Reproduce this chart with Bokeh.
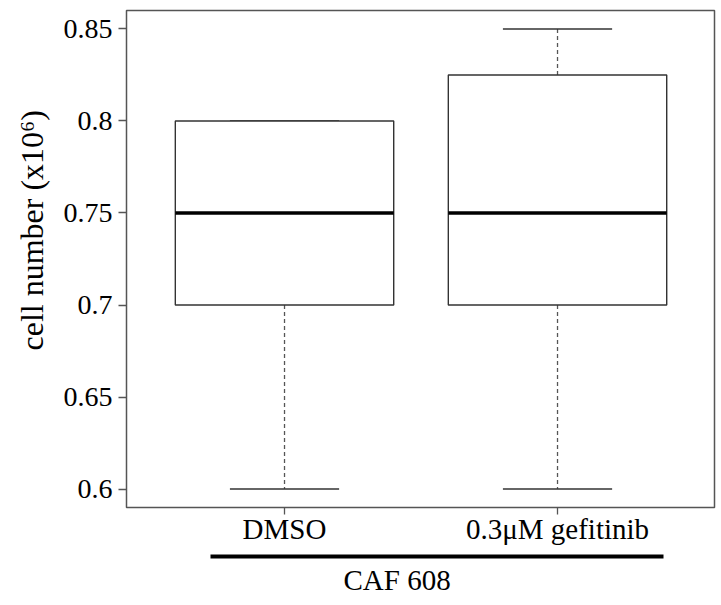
from bokeh.plotting import figure
from bokeh.models import Range1d, LinearAxis, FixedTicker, ColumnDataSource, Title
from bokeh.embed import file_html
from bokeh.resources import INLINE

# ---- data ----
groups = ["DMSO", "0.3μM gefitinib"]
positions = [1, 2]
lower = [0.60, 0.60]
q1 = [0.70, 0.70]
median = [0.75, 0.75]
q3 = [0.80, 0.825]
upper = [0.80, 0.85]
y_ticks = [0.6, 0.65, 0.7, 0.75, 0.8, 0.85]
y_tick_labels = ["0.6", "0.65", "0.7", "0.75", "0.8", "0.85"]
group_label = "CAF 608"
y_label = "cell number (x10⁶)"

# ---- style ----
FONT = "Liberation Serif"
FS = "28px"
XFS = "29px"
BOX_W = 0.8
CAP_W = 0.4
GRAY = "#555555"
BOXC = "#333333"

src = ColumnDataSource(dict(
    pos=positions,
    left=[x - BOX_W / 2 for x in positions],
    right=[x + BOX_W / 2 for x in positions],
    cl=[x - CAP_W / 2 for x in positions],
    cr=[x + CAP_W / 2 for x in positions],
    lower=lower, q1=q1, median=median, q3=q3, upper=upper,
))

p = figure(width=716, height=605, output_backend="svg", toolbar_location=None,
           x_range=Range1d(0.4212, 2.575), y_range=Range1d(0.59, 0.86),
           min_border_left=126, min_border_right=2, min_border_top=10,
           min_border_bottom=98)
p.xgrid.visible = False
p.ygrid.visible = False
p.outline_line_color = GRAY
p.outline_line_width = 1.5
p.background_fill_color = "white"
p.border_fill_color = "white"

# whiskers
p.segment(x0="pos", x1="pos", y0="q3", y1="upper", source=src,
          line_color=GRAY, line_width=1.3, line_dash="4 3")
p.segment(x0="pos", x1="pos", y0="q1", y1="lower", source=src,
          line_color=GRAY, line_width=1.3, line_dash="4 3")
# caps
p.segment(x0="cl", x1="cr", y0="upper", y1="upper", source=src,
          line_color=BOXC, line_width=1.5)
p.segment(x0="cl", x1="cr", y0="lower", y1="lower", source=src,
          line_color=BOXC, line_width=1.5)
# boxes
p.quad(left="left", right="right", bottom="q1", top="q3", source=src,
       fill_color="white", line_color=BOXC, line_width=1.4)
# medians
p.segment(x0="left", x1="right", y0="median", y1="median", source=src,
          line_color="black", line_width=3.5)

# y axis
ya = p.yaxis[0]
ya.ticker = FixedTicker(ticks=y_ticks)
ya.major_label_overrides = {t: l for t, l in zip(y_ticks, y_tick_labels)}
ya.axis_line_color = None
ya.major_tick_out = 8
ya.major_tick_in = 0
ya.major_tick_line_color = GRAY
ya.major_tick_line_width = 1.3
ya.minor_tick_line_color = None
ya.major_label_text_font = FONT
ya.major_label_text_font_size = FS
ya.major_label_text_color = "black"
ya.major_label_standoff = 6

# x axis
xa = p.xaxis[0]
xa.ticker = FixedTicker(ticks=positions)
xa.major_label_overrides = {x: g for x, g in zip(positions, groups)}
xa.axis_line_color = None
xa.major_tick_out = 7
xa.major_tick_in = 0
xa.major_tick_line_color = GRAY
xa.major_tick_line_width = 1.3
xa.minor_tick_line_color = None
xa.major_label_text_font = FONT
xa.major_label_text_font_size = XFS
xa.major_label_text_color = "black"
xa.major_label_standoff = -2

# spacer between tick labels and group bar (invisible tick)
sp = LinearAxis(ticker=FixedTicker(ticks=[positions[0]]), axis_line_color=None,
                major_tick_line_color=None, minor_tick_line_color=None,
                major_tick_out=9, major_tick_in=0, major_label_standoff=0,
                major_label_overrides={positions[0]: ""},
                major_label_text_font_size="1px")
p.add_layout(sp, "below")

# group bar
ga = LinearAxis(ticker=FixedTicker(ticks=[]), bounds=(0.729, 2.388),
                axis_line_color="black", axis_line_width=4,
                major_tick_line_color=None, minor_tick_line_color=None,
                major_tick_out=0, major_tick_in=0)
p.add_layout(ga, "below")

# group label
p.add_layout(Title(text=group_label, align="left", offset=217,
                   vertical_align="bottom", standoff=10,
                   text_font=FONT, text_font_size=XFS,
                   text_font_style="normal", text_color="black"), "below")

# y axis label
p.add_layout(Title(text=y_label, align="left", offset=157,
                   vertical_align="bottom", standoff=22,
                   text_font=FONT, text_font_size="32px",
                   text_font_style="normal", text_color="black"), "left")

open("out.html", "w").write(file_html(p, INLINE))
